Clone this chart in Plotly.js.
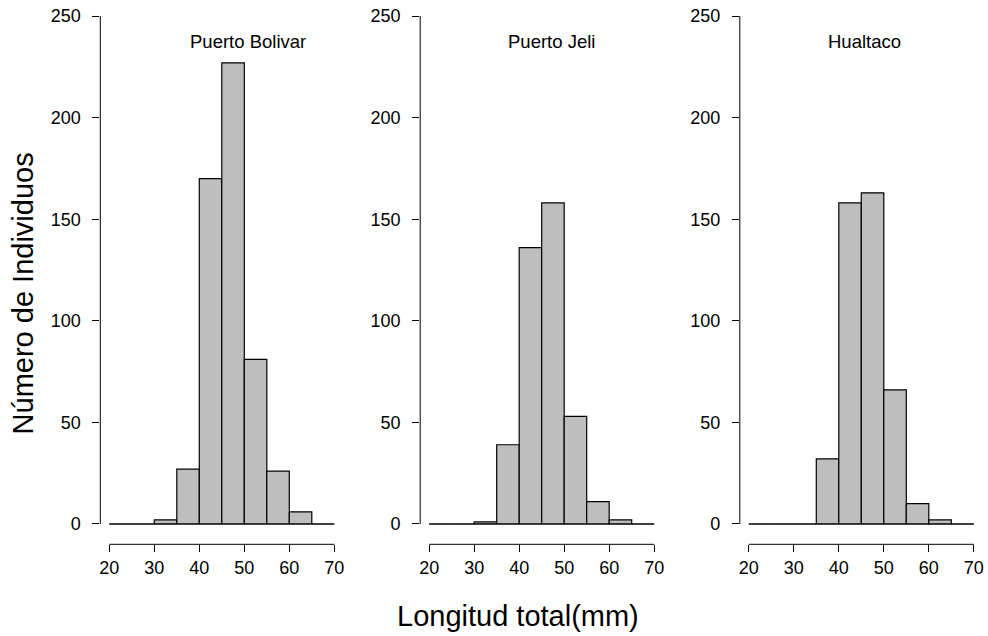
<!DOCTYPE html>
<html>
<head>
<meta charset="utf-8">
<script src="https://cdn.plot.ly/plotly-3.0.1.min.js"></script>
<style>html,body{margin:0;padding:0;background:#fff;}#chart{width:988px;height:636px;}</style>
</head>
<body>
<div id="chart"></div>
<script>
// ---- data ----
const binStart = [20, 25, 30, 35, 40, 45, 50, 55, 60, 65];
const binWidth = 5;
const siteNames = ["Puerto Bolivar", "Puerto Jeli", "Hualtaco"];
const bolivar = [0, 0, 2, 27, 170, 227, 81, 26, 6, 0];
const jeli = [0, 0, 1, 39, 136, 158, 53, 11, 2, 0];
const hualtaco = [0, 0, 0, 32, 158, 163, 66, 10, 2, 0];
const xTicks = [20, 30, 40, 50, 60, 70];
const yTicks = [0, 50, 100, 150, 200, 250];
const yAxisTitle = "Número de Individuos";
const xAxisTitle = "Longitud total(mm)";

// ---- layout helpers (pixels -> paper) ----
const W = 988, H = 636;
const px = v => v / W;
const py = v => 1 - v / H;
const panelLeft = [100.3, 420.2, 739.8];
const panelWidth = 243;
const titleX = [50.8, 47.2, 45.6];
const series = [bolivar, jeli, hualtaco];
const FONT = "Liberation Sans, Arial, sans-serif";

const centers = binStart.map(b => b + binWidth / 2);
const edgeMin = binStart[0];
const edgeMax = binStart[binStart.length - 1] + binWidth;

const traces = [];
const layout = {
  width: W, height: H,
  margin: {l: 0, r: 0, t: 0, b: 0},
  paper_bgcolor: "#fff", plot_bgcolor: "rgba(0,0,0,0)",
  showlegend: false,
  font: {family: FONT, color: "#000", size: 18},
  shapes: [], annotations: []
};

series.forEach((vals, i) => {
  const n = i === 0 ? "" : String(i + 1);
  traces.push({
    type: "bar", x: centers, y: vals, width: binWidth,
    xaxis: "x" + n, yaxis: "y" + n,
    marker: {color: "#BEBEBE", line: {color: "#000", width: 1.2}},
    hoverinfo: "x+y"
  });
  layout["xaxis" + n] = {
    domain: [px(panelLeft[i]), px(panelLeft[i] + panelWidth)],
    range: [18, 72], anchor: "y" + n,
    tickvals: xTicks, ticktext: xTicks.map(String),
    ticks: "outside", ticklen: 7, tickwidth: 1, tickcolor: "#000",
    showgrid: false, zeroline: false, showline: false,
    tickfont: {family: FONT, size: 18, color: "#000"},
    ticklabelstandoff: 0
  };
  layout["yaxis" + n] = {
    domain: [py(544.3), 1],
    range: [-10, 257.9], anchor: "x" + n,
    tickvals: yTicks, ticktext: yTicks.map(String),
    ticks: "outside", ticklen: 7, tickwidth: 1, tickcolor: "#000",
    showgrid: false, zeroline: false, showline: false,
    tickfont: {family: FONT, size: 18, color: "#000"},
    ticklabelstandoff: 8
  };
  // x axis line (20..70)
  layout.shapes.push({type: "line", xref: "x" + n, yref: "paper",
    x0: xTicks[0], x1: xTicks[xTicks.length - 1], y0: py(544.3), y1: py(544.3),
    line: {color: "#000", width: 1}});
  // y axis line (0..250)
  layout.shapes.push({type: "line", xref: "paper", yref: "y" + n,
    x0: px(panelLeft[i]), x1: px(panelLeft[i]), y0: yTicks[0], y1: yTicks[yTicks.length - 1],
    line: {color: "#000", width: 1}});
  // histogram baseline
  layout.shapes.push({type: "line", xref: "x" + n, yref: "y" + n,
    x0: edgeMin, x1: edgeMax, y0: 0, y1: 0,
    line: {color: "#000", width: 1}});
  layout.annotations.push({xref: "x" + n, yref: "y" + n, x: titleX[i], y: 237.4,
    text: siteNames[i], showarrow: false, xanchor: "center", yanchor: "middle",
    font: {family: FONT, size: 18.5, color: "#000"}});
});

layout.annotations.push({xref: "paper", yref: "paper", x: px(517.5), y: py(616),
  text: xAxisTitle, showarrow: false, xanchor: "center", yanchor: "middle",
  font: {family: FONT, size: 29, color: "#000"}});
layout.annotations.push({xref: "paper", yref: "paper", x: px(23), y: py(293.4),
  text: yAxisTitle, showarrow: false, xanchor: "center", yanchor: "middle", textangle: -90,
  font: {family: FONT, size: 29, color: "#000"}});

Plotly.newPlot("chart", traces, layout, {staticPlot: true, displayModeBar: false});
</script>
</body>
</html>
